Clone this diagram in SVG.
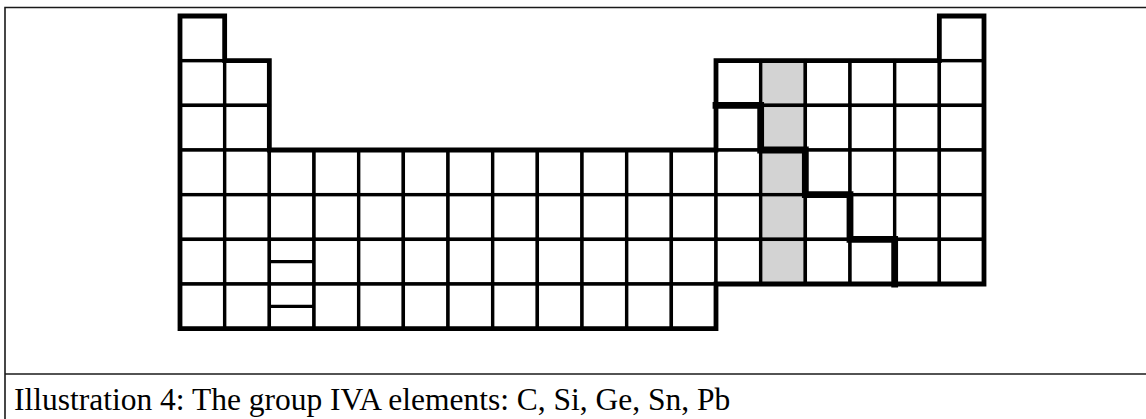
<svg xmlns="http://www.w3.org/2000/svg" width="1146" height="419" viewBox="0 0 1146 419">
  <style>
    .frame { fill: none; stroke: #1a1a1a; stroke-width: 1.6; }
    .c { fill: #ffffff; stroke: #000000; stroke-width: 3.4; }
    .g { fill: #d3d3d3; stroke: #000000; stroke-width: 3.4; }
    .split { stroke: #000000; stroke-width: 3.4; }
    .outline { fill: none; stroke: #000000; stroke-width: 4.8; stroke-linejoin: miter; }
    .stair { fill: none; stroke: #000000; stroke-width: 6.8; stroke-linejoin: miter; stroke-linecap: square; }
    .caption { font-family: "Liberation Serif", "Times New Roman", serif; font-size: 31.5px; fill: #000000; }
  </style>
  <rect width="1146" height="419" fill="#ffffff"/>

  <!-- caption frame -->
  <g id="frame">
    <path class="frame" d="M5,419 V7.5 H1146"/>
    <line class="frame" x1="5" y1="374" x2="1146" y2="374"/>
  </g>

  <!-- periodic table, cell pitch 44.667 px, origin (180,16) -->
  <g id="period-1">
    <rect class="c" x="180" y="16" width="44.67" height="44.67"/>
    <rect class="c" x="939.33" y="16" width="44.67" height="44.67"/>
  </g>
  <g id="period-2">
    <rect class="c" x="180" y="60.67" width="44.67" height="44.67"/>
    <rect class="c" x="224.67" y="60.67" width="44.67" height="44.67"/>
    <rect class="c" x="716" y="60.67" width="44.67" height="44.67"/>
    <rect class="g" x="760.67" y="60.67" width="44.67" height="44.67"/>
    <rect class="c" x="805.33" y="60.67" width="44.67" height="44.67"/>
    <rect class="c" x="850" y="60.67" width="44.67" height="44.67"/>
    <rect class="c" x="894.67" y="60.67" width="44.67" height="44.67"/>
    <rect class="c" x="939.33" y="60.67" width="44.67" height="44.67"/>
  </g>
  <g id="period-3">
    <rect class="c" x="180" y="105.33" width="44.67" height="44.67"/>
    <rect class="c" x="224.67" y="105.33" width="44.67" height="44.67"/>
    <rect class="c" x="716" y="105.33" width="44.67" height="44.67"/>
    <rect class="g" x="760.67" y="105.33" width="44.67" height="44.67"/>
    <rect class="c" x="805.33" y="105.33" width="44.67" height="44.67"/>
    <rect class="c" x="850" y="105.33" width="44.67" height="44.67"/>
    <rect class="c" x="894.67" y="105.33" width="44.67" height="44.67"/>
    <rect class="c" x="939.33" y="105.33" width="44.67" height="44.67"/>
  </g>
  <g id="period-4">
    <rect class="c" x="180" y="150" width="44.67" height="44.67"/>
    <rect class="c" x="224.67" y="150" width="44.67" height="44.67"/>
    <rect class="c" x="269.33" y="150" width="44.67" height="44.67"/>
    <rect class="c" x="314" y="150" width="44.67" height="44.67"/>
    <rect class="c" x="358.67" y="150" width="44.67" height="44.67"/>
    <rect class="c" x="403.33" y="150" width="44.67" height="44.67"/>
    <rect class="c" x="448" y="150" width="44.67" height="44.67"/>
    <rect class="c" x="492.67" y="150" width="44.67" height="44.67"/>
    <rect class="c" x="537.33" y="150" width="44.67" height="44.67"/>
    <rect class="c" x="582" y="150" width="44.67" height="44.67"/>
    <rect class="c" x="626.67" y="150" width="44.67" height="44.67"/>
    <rect class="c" x="671.33" y="150" width="44.67" height="44.67"/>
    <rect class="c" x="716" y="150" width="44.67" height="44.67"/>
    <rect class="g" x="760.67" y="150" width="44.67" height="44.67"/>
    <rect class="c" x="805.33" y="150" width="44.67" height="44.67"/>
    <rect class="c" x="850" y="150" width="44.67" height="44.67"/>
    <rect class="c" x="894.67" y="150" width="44.67" height="44.67"/>
    <rect class="c" x="939.33" y="150" width="44.67" height="44.67"/>
  </g>
  <g id="period-5">
    <rect class="c" x="180" y="194.67" width="44.67" height="44.67"/>
    <rect class="c" x="224.67" y="194.67" width="44.67" height="44.67"/>
    <rect class="c" x="269.33" y="194.67" width="44.67" height="44.67"/>
    <rect class="c" x="314" y="194.67" width="44.67" height="44.67"/>
    <rect class="c" x="358.67" y="194.67" width="44.67" height="44.67"/>
    <rect class="c" x="403.33" y="194.67" width="44.67" height="44.67"/>
    <rect class="c" x="448" y="194.67" width="44.67" height="44.67"/>
    <rect class="c" x="492.67" y="194.67" width="44.67" height="44.67"/>
    <rect class="c" x="537.33" y="194.67" width="44.67" height="44.67"/>
    <rect class="c" x="582" y="194.67" width="44.67" height="44.67"/>
    <rect class="c" x="626.67" y="194.67" width="44.67" height="44.67"/>
    <rect class="c" x="671.33" y="194.67" width="44.67" height="44.67"/>
    <rect class="c" x="716" y="194.67" width="44.67" height="44.67"/>
    <rect class="g" x="760.67" y="194.67" width="44.67" height="44.67"/>
    <rect class="c" x="805.33" y="194.67" width="44.67" height="44.67"/>
    <rect class="c" x="850" y="194.67" width="44.67" height="44.67"/>
    <rect class="c" x="894.67" y="194.67" width="44.67" height="44.67"/>
    <rect class="c" x="939.33" y="194.67" width="44.67" height="44.67"/>
  </g>
  <g id="period-6">
    <rect class="c" x="180" y="239.33" width="44.67" height="44.67"/>
    <rect class="c" x="224.67" y="239.33" width="44.67" height="44.67"/>
    <rect class="c" x="269.33" y="239.33" width="44.67" height="44.67"/>
    <line class="split" x1="269.33" y1="261.67" x2="314" y2="261.67"/>
    <rect class="c" x="314" y="239.33" width="44.67" height="44.67"/>
    <rect class="c" x="358.67" y="239.33" width="44.67" height="44.67"/>
    <rect class="c" x="403.33" y="239.33" width="44.67" height="44.67"/>
    <rect class="c" x="448" y="239.33" width="44.67" height="44.67"/>
    <rect class="c" x="492.67" y="239.33" width="44.67" height="44.67"/>
    <rect class="c" x="537.33" y="239.33" width="44.67" height="44.67"/>
    <rect class="c" x="582" y="239.33" width="44.67" height="44.67"/>
    <rect class="c" x="626.67" y="239.33" width="44.67" height="44.67"/>
    <rect class="c" x="671.33" y="239.33" width="44.67" height="44.67"/>
    <rect class="c" x="716" y="239.33" width="44.67" height="44.67"/>
    <rect class="g" x="760.67" y="239.33" width="44.67" height="44.67"/>
    <rect class="c" x="805.33" y="239.33" width="44.67" height="44.67"/>
    <rect class="c" x="850" y="239.33" width="44.67" height="44.67"/>
    <rect class="c" x="894.67" y="239.33" width="44.67" height="44.67"/>
    <rect class="c" x="939.33" y="239.33" width="44.67" height="44.67"/>
  </g>
  <g id="period-7">
    <rect class="c" x="180" y="284" width="44.67" height="44.67"/>
    <rect class="c" x="224.67" y="284" width="44.67" height="44.67"/>
    <rect class="c" x="269.33" y="284" width="44.67" height="44.67"/>
    <line class="split" x1="269.33" y1="306.33" x2="314" y2="306.33"/>
    <rect class="c" x="314" y="284" width="44.67" height="44.67"/>
    <rect class="c" x="358.67" y="284" width="44.67" height="44.67"/>
    <rect class="c" x="403.33" y="284" width="44.67" height="44.67"/>
    <rect class="c" x="448" y="284" width="44.67" height="44.67"/>
    <rect class="c" x="492.67" y="284" width="44.67" height="44.67"/>
    <rect class="c" x="537.33" y="284" width="44.67" height="44.67"/>
    <rect class="c" x="582" y="284" width="44.67" height="44.67"/>
    <rect class="c" x="626.67" y="284" width="44.67" height="44.67"/>
    <rect class="c" x="671.33" y="284" width="44.67" height="44.67"/>
  </g>

  <!-- heavier table outline and the metal / non-metal staircase -->
  <g id="borders">
    <path class="outline" d="M180,16 H224.67 V60.67 H269.33 V150 H716 V60.67 H939.33 V16 H984 V284 H716 V328.67 H180 Z"/>
    <path class="stair" d="M716,105.33 H760.67 V150 H805.33 V194.67 H850 V239.33 H894.67 V284"/>
  </g>

  <text class="caption" x="14" y="410">Illustration 4: The group IVA elements: C, Si, Ge, Sn, Pb</text>
</svg>
